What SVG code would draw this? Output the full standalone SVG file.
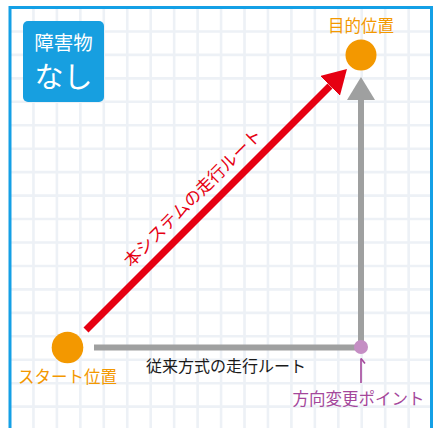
<svg xmlns="http://www.w3.org/2000/svg" width="436" height="428" viewBox="0 0 436 428">
  <defs>
    <marker id="redHead" viewBox="0 0 24 28" refX="0" refY="14" markerWidth="24" markerHeight="28" markerUnits="userSpaceOnUse" orient="auto">
      <path d="M0 0 L24 14 L0 28 Z" fill="#e60012"/>
    </marker>
    <marker id="grayHead" viewBox="0 0 23 28" refX="0" refY="14" markerWidth="23" markerHeight="28" markerUnits="userSpaceOnUse" orient="auto">
      <path d="M0 0 L23 14 L0 28 Z" fill="#9fa0a0"/>
    </marker>
  </defs>
  <style>
    text { font-family: "Noto Sans CJK JP", "Noto Sans", sans-serif; }
    .orange { fill: #f39800; font-size: 16.5px; }
    .purple { fill: #a4479b; font-size: 16.5px; }
    .dark { fill: #1a1a1a; font-size: 16px; }
    .red { fill: #e60012; font-size: 17px; }
    .grid { fill: none; stroke: #edf1f6; stroke-width: 2.6; }
  </style>
  <rect width="436" height="428" fill="#ffffff"/>
  <path class="grid" d="M33.45 8V428 M56.9 8V428 M80.35 8V428 M103.8 8V428 M127.25 8V428 M150.7 8V428 M174.15 8V428 M197.6 8V428 M221.05 8V428 M244.5 8V428 M267.95 8V428 M291.4 8V428 M314.85 8V428 M338.3 8V428 M361.75 8V428 M385.2 8V428 M408.65 8V428 M10 31.45H432 M10 54.9H432 M10 78.35H432 M10 101.8H432 M10 125.25H432 M10 148.7H432 M10 172.15H432 M10 195.6H432 M10 219.05H432 M10 242.5H432 M10 265.95H432 M10 289.4H432 M10 312.85H432 M10 336.3H432 M10 359.75H432 M10 383.2H432 M10 406.65H432"/>
  <rect x="10" y="7.5" width="421.5" height="440" fill="none" stroke="#14a0e6" stroke-width="3"/>

  <g id="obstacle-badge">
    <rect x="23" y="21" width="81" height="81" rx="5" fill="#179fe0"/>
    <text x="63.5" y="50" text-anchor="middle" fill="#ffffff" style="font-size:19.5px">障害物</text>
    <text x="63.5" y="88" text-anchor="middle" fill="#ffffff" style="font-size:29px">なし</text>
  </g>

  <g id="connectors">
    <line x1="86" y1="330" x2="330" y2="86" stroke="#e60012" stroke-width="7" marker-end="url(#redHead)"/>
    <text class="red" transform="translate(197 202) rotate(-45)" text-anchor="middle">本システムの走行ルート</text>
    <polyline points="94,347.5 361,347.5 361,100" fill="none" stroke="#9fa0a0" stroke-width="6" marker-end="url(#grayHead)"/>
    <text class="dark" x="146" y="372">従来方式の走行ルート</text>
    <line x1="361" y1="358.5" x2="361" y2="383" stroke="#a4479b" stroke-width="1.6"/>
    <line x1="361" y1="358.5" x2="365" y2="363.5" stroke="#a4479b" stroke-width="1.6"/>
  </g>

  <g id="start">
    <circle cx="67.5" cy="347.5" r="15.8" fill="#f39800"/>
    <text class="orange" x="67.5" y="383" text-anchor="middle">スタート位置</text>
  </g>

  <g id="goal">
    <circle cx="361" cy="55" r="15.5" fill="#f39800"/>
    <text class="orange" x="361" y="32" text-anchor="middle">目的位置</text>
  </g>

  <g id="turn-point">
    <circle cx="361" cy="347" r="7" fill="#c58ec4"/>
    <text class="purple" x="358.5" y="405" text-anchor="middle">方向変更ポイント</text>
  </g>
</svg>
